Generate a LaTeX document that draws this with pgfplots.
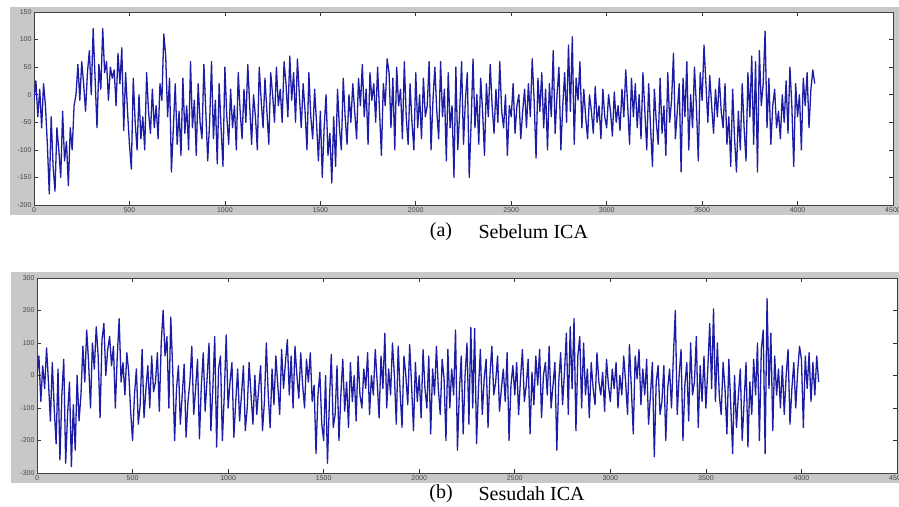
\documentclass[border=0pt]{standalone}
\usepackage{pgfplots}
\usepackage{pgfplotstable}
\pgfplotsset{compat=1.18}
\usepackage{fontspec}
\setmainfont{Liberation Serif}
\setsansfont{Liberation Sans}
\definecolor{mgray}{RGB}{200,200,200}
\definecolor{sig}{RGB}{28,28,165}
\definecolor{tlab}{RGB}{70,70,70}

\pgfplotstableread[row sep=\\]{
y\\
-10\\ 25\\ -40\\ 10\\ -60\\ 20\\ -20\\ -90\\ -180\\ -40\\
-130\\ -175\\ -60\\ -100\\ -150\\ -30\\ -120\\ -85\\ -165\\ -60\\
-100\\ -20\\ 0\\ 55\\ -10\\ 60\\ 20\\ -30\\ 40\\ 80\\
0\\ 120\\ 30\\ -60\\ 55\\ 10\\ 120\\ 40\\ 60\\ -10\\
50\\ 30\\ 45\\ -20\\ 75\\ 20\\ 85\\ -65\\ 40\\ -30\\
-90\\ -135\\ 30\\ -50\\ -100\\ 0\\ -80\\ -40\\ -100\\ 40\\
-30\\ -70\\ 10\\ -60\\ -20\\ -80\\ 20\\ -10\\ 110\\ 70\\
-40\\ 30\\ -140\\ -60\\ 20\\ -90\\ -30\\ -110\\ 30\\ -70\\
-20\\ -100\\ 60\\ -60\\ -10\\ -110\\ 20\\ -50\\ -80\\ 55\\
-30\\ -120\\ -50\\ 60\\ -80\\ -10\\ -125\\ 20\\ -60\\ -130\\
50\\ -40\\ -90\\ 10\\ -60\\ -20\\ -100\\ 40\\ -30\\ -80\\
10\\ -50\\ 55\\ -20\\ -90\\ 0\\ -40\\ -100\\ 50\\ -10\\
-60\\ 30\\ -30\\ -90\\ 40\\ 0\\ -50\\ 50\\ -20\\ 10\\
-50\\ 60\\ 20\\ -40\\ 70\\ -10\\ 40\\ -50\\ 65\\ 0\\
-60\\ 20\\ -30\\ -100\\ 40\\ -40\\ -80\\ 10\\ -50\\ -120\\
-30\\ -150\\ -60\\ 0\\ -110\\ -70\\ -160\\ -40\\ -130\\ 10\\
-60\\ -100\\ 30\\ -40\\ -90\\ 0\\ -50\\ 20\\ -30\\ -80\\
30\\ -20\\ 55\\ -40\\ 10\\ -90\\ 40\\ -10\\ 20\\ -50\\
50\\ -30\\ -110\\ 20\\ -20\\ 65\\ 40\\ -60\\ 30\\ -100\\
50\\ -20\\ 10\\ -80\\ 60\\ -40\\ -90\\ 20\\ -50\\ -100\\
40\\ -60\\ 0\\ -80\\ 30\\ -40\\ -20\\ 60\\ -100\\ -10\\
50\\ -30\\ -80\\ 60\\ -40\\ 10\\ -120\\ 40\\ -60\\ -20\\
-150\\ 50\\ -100\\ -30\\ 60\\ -90\\ -10\\ 40\\ -150\\ -50\\
65\\ -60\\ 0\\ -90\\ 30\\ -30\\ -110\\ 20\\ -40\\ 55\\
-20\\ -70\\ 10\\ -50\\ 60\\ -30\\ -60\\ 0\\ -110\\ -20\\
-40\\ 20\\ -70\\ -20\\ 0\\ -80\\ -30\\ 10\\ -60\\ 20\\
-40\\ 65\\ -10\\ -115\\ 30\\ -30\\ 40\\ -60\\ 10\\ -100\\
20\\ -40\\ 80\\ -70\\ 0\\ 50\\ -100\\ -20\\ 40\\ -50\\
90\\ -30\\ 105\\ -90\\ 30\\ -10\\ 60\\ -60\\ 10\\ -40\\
-80\\ 0\\ -30\\ -70\\ 15\\ -50\\ -20\\ -80\\ 10\\ -40\\
-60\\ 0\\ -30\\ -75\\ 5\\ -50\\ -20\\ -65\\ 10\\ -40\\
45\\ -20\\ -90\\ 30\\ -40\\ 20\\ -60\\ 0\\ -80\\ 40\\
-30\\ -100\\ 20\\ -60\\ -130\\ 10\\ -50\\ -90\\ 30\\ -70\\
-20\\ -110\\ 40\\ -50\\ -10\\ 75\\ -80\\ -30\\ 20\\ -140\\
30\\ -40\\ 60\\ -100\\ 0\\ -60\\ 50\\ -20\\ -120\\ 40\\
-10\\ 90\\ 20\\ -50\\ 35\\ -20\\ -70\\ 10\\ -40\\ 30\\
-30\\ -60\\ 20\\ -90\\ -40\\ -130\\ 10\\ -80\\ -140\\ -30\\
-100\\ 20\\ -60\\ -120\\ 40\\ -40\\ 70\\ -90\\ 60\\ -140\\
80\\ -20\\ 20\\ 115\\ -60\\ 30\\ -90\\ -20\\ 10\\ -60\\
-30\\ -80\\ 0\\ -50\\ 25\\ -70\\ 50\\ -20\\ -130\\ 20\\
-40\\ 0\\ -100\\ 30\\ -20\\ 40\\ -60\\ 10\\ 45\\ 20\\
}\sebelum

\pgfplotstableread[row sep=\\]{
y\\
0\\ 60\\ -80\\ 30\\ -40\\ 85\\ -20\\ -140\\ 40\\ -100\\
-210\\ 20\\ -260\\ -60\\ 50\\ -270\\ -120\\ -20\\ -280\\ -90\\
-230\\ 0\\ -140\\ -60\\ 90\\ -20\\ 140\\ 40\\ -100\\ 100\\
20\\ 150\\ 60\\ -130\\ 110\\ 160\\ 0\\ 80\\ 120\\ 30\\
90\\ -100\\ 60\\ 175\\ -20\\ 40\\ -60\\ 70\\ 10\\ -110\\
-200\\ -60\\ 20\\ -150\\ -90\\ 80\\ -130\\ -40\\ 30\\ -100\\
60\\ -50\\ -20\\ 70\\ -110\\ 100\\ 200\\ 60\\ 120\\ -100\\
180\\ 20\\ -200\\ -40\\ 30\\ -150\\ -60\\ 35\\ -190\\ -80\\
-20\\ 90\\ -120\\ -40\\ 50\\ -195\\ -30\\ 70\\ -110\\ -10\\
100\\ -170\\ -40\\ 120\\ -220\\ 20\\ 60\\ -200\\ -60\\ 125\\
-100\\ -20\\ 40\\ -190\\ -80\\ 20\\ -140\\ -60\\ 30\\ -170\\
-100\\ 40\\ -60\\ -150\\ 0\\ -120\\ -40\\ 30\\ -170\\ -80\\
100\\ -60\\ -160\\ 20\\ -90\\ 60\\ -30\\ -120\\ 80\\ -40\\
40\\ 110\\ -60\\ 60\\ -100\\ 90\\ 0\\ -70\\ 70\\ -30\\
-100\\ 50\\ -20\\ 70\\ -80\\ -30\\ -240\\ -60\\ 10\\ -150\\
-200\\ 0\\ -270\\ -80\\ 65\\ -160\\ -120\\ 30\\ -200\\ -60\\
50\\ -110\\ -20\\ -160\\ 40\\ -80\\ 0\\ -140\\ 60\\ -60\\
-100\\ 20\\ -40\\ 70\\ -120\\ 0\\ -60\\ 80\\ -20\\ -130\\
60\\ -40\\ 130\\ -100\\ 20\\ -60\\ 100\\ 0\\ -150\\ 90\\
-50\\ -160\\ 60\\ 0\\ -90\\ 95\\ -30\\ -170\\ 40\\ -80\\
0\\ -130\\ 80\\ -40\\ -100\\ 60\\ -180\\ 20\\ -60\\ 90\\
-40\\ -120\\ 50\\ -10\\ -200\\ 80\\ -100\\ 20\\ -60\\ 140\\
-230\\ -50\\ 60\\ -180\\ 0\\ 100\\ -150\\ 148\\ -100\\ 145\\
-210\\ -40\\ 80\\ -120\\ -10\\ 50\\ -160\\ 0\\ 90\\ -60\\
-20\\ 60\\ -110\\ -40\\ 20\\ -80\\ 70\\ -200\\ -30\\ 30\\
-60\\ 40\\ -120\\ -10\\ 80\\ -80\\ -30\\ 50\\ -180\\ 10\\
-90\\ 60\\ -30\\ 80\\ -130\\ 0\\ 40\\ -60\\ 90\\ -100\\
-30\\ 40\\ -230\\ -20\\ 70\\ -90\\ 10\\ 130\\ -120\\ 150\\
-40\\ 175\\ -170\\ 60\\ 120\\ -100\\ 100\\ -60\\ 20\\ -130\\
40\\ -40\\ -90\\ 70\\ -20\\ -60\\ 10\\ -110\\ 50\\ -30\\
-80\\ 20\\ -40\\ 40\\ -100\\ 0\\ -60\\ 60\\ -20\\ -120\\
95\\ -40\\ -180\\ 60\\ -10\\ 80\\ -90\\ 20\\ -60\\ 50\\
-150\\ -60\\ 40\\ -250\\ -20\\ 30\\ -120\\ -80\\ 30\\ -200\\
-40\\ 20\\ -100\\ 60\\ 200\\ -120\\ 0\\ 80\\ -200\\ -30\\
40\\ -140\\ 100\\ -60\\ -20\\ 120\\ -160\\ 30\\ -80\\ 60\\
-100\\ 20\\ 160\\ -40\\ 205\\ -80\\ 100\\ -60\\ -120\\ 40\\
-40\\ -180\\ 50\\ -90\\ -240\\ 0\\ -160\\ -60\\ 20\\ -200\\
-80\\ 40\\ -220\\ -20\\ -120\\ 50\\ -60\\ 100\\ -200\\ 80\\
140\\ -240\\ 237\\ -40\\ 130\\ -170\\ 60\\ -60\\ 20\\ -100\\
30\\ -120\\ 0\\ 80\\ -150\\ -40\\ 40\\ -100\\ 10\\ 90\\
50\\ -160\\ 60\\ -40\\ 70\\ -80\\ 40\\ -60\\ 60\\ -20\\
}\sesudah

\pgfplotsset{
  eegaxis/.style={
    scale only axis,
    anchor=south west,
    xmin=0, xmax=4500,
    xtick={0,500,...,4500},
    scaled x ticks=false,
    /pgf/number format/1000 sep={},
    /pgf/number format/assume math mode=true,
    tick label style={font=\sffamily\fontsize{7}{8}\selectfont, text=tlab},
    tick align=inside,
    major tick length=4pt,
    tick style={black!80, line width=0.6pt},
    axis line style={black!75, line width=0.8pt},
    axis background/.style={fill=white},
    xticklabel style={yshift=1pt},
    yticklabel style={xshift=1pt},
  }
}

\begin{document}
\begin{tikzpicture}[x=1pt,y=1pt]
\useasboundingbox (0,0) rectangle (899,506);
\fill[mgray] (10,291) rectangle (899,499);
\fill[mgray] (11,23) rectangle (899,234);

\begin{axis}[eegaxis,
  at={(34pt,301pt)}, width=859pt, height=193pt,
  ymin=-200, ymax=150, ytick={-200,-150,...,150}]
\addplot[sig, line width=1.3pt, line join=round] table[x expr=\coordindex*10, y=y] {\sebelum};
\end{axis}

\begin{axis}[eegaxis,
  at={(37pt,33pt)}, width=860pt, height=195pt,
  ymin=-300, ymax=300, ytick={-300,-200,...,300}]
\addplot[sig, line width=1.3pt, line join=round] table[x expr=\coordindex*10, y=y] {\sesudah};
\end{axis}

\node[font=\fontsize{20}{22}\selectfont] at (441,274) {(a)};
\node[font=\fontsize{20}{22}\selectfont, anchor=west] at (475,274) {Sebelum ICA};
\node[font=\fontsize{20}{22}\selectfont] at (441,12) {(b)};
\node[font=\fontsize{20}{22}\selectfont, anchor=west] at (475,12) {Sesudah ICA};
\end{tikzpicture}
\end{document}
